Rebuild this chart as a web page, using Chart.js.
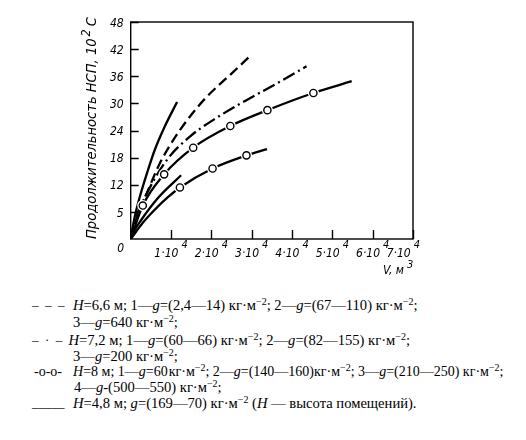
<!DOCTYPE html>
<html>
<head>
<meta charset="utf-8">
<script src="https://cdn.jsdelivr.net/npm/chart.js@4.4.1/dist/chart.umd.min.js"></script>
<style>
  html, body { margin: 0; padding: 0; background: #fff; }
  #wrap { position: relative; width: 526px; height: 440px; overflow: hidden; }
  #chart { position: absolute; left: 0; top: 0; }
  .row {
    position: absolute; white-space: nowrap; color: #000;
    font-family: "Liberation Serif", "DejaVu Serif", serif;
    font-size: 14.6px; line-height: 16px;
  }
  .row sup { font-size: 10px; line-height: 0; vertical-align: 5px; }
  .sym { position: absolute; left: 32px; white-space: nowrap; font-family: "Liberation Serif", serif; font-size: 13px; line-height: 16px; }
</style>
</head>
<body>
<div id="wrap">
  <canvas id="chart" width="526" height="285"></canvas>

  <div class="sym" style="top:297px">–&nbsp;&nbsp;–&nbsp;&nbsp;–</div>
  <div class="row" style="top:297px;left:73px"><i>H</i>=6,6 м; 1—<i>g</i>=(2,4—14) кг·м<sup>−2</sup>; 2—<i>g</i>=(67—110) кг·м<sup>−2</sup>;</div>
  <div class="row" style="top:313.7px;left:73px">3—<i>g</i>=640 кг·м<sup>−2</sup>;</div>

  <div class="sym" style="top:332px">–&nbsp;&nbsp;·&nbsp;&nbsp;–</div>
  <div class="row" style="top:332px;left:68.5px"><i>H</i>=7,2 м; 1—<i>g</i>=(60—66) кг·м<sup>−2</sup>; 2—<i>g</i>=(82—155) кг·м<sup>−2</sup>;</div>
  <div class="row" style="top:347.7px;left:73px">3—<i>g</i>=200 кг·м<sup>−2</sup>;</div>

  <div class="sym" style="top:363.7px;left:34px;font-size:14px">-o-o-</div>
  <div class="row" style="top:363.7px;left:73px;font-size:14px"><i>H</i>=8 м; 1—<i>g</i>=60<span style="margin-left:1px"></span>кг·м<sup>−2</sup>; 2—<i>g</i>=(140—160)кг·м<sup>−2</sup>; 3—<i>g</i>=(210—250) кг·м<sup>−2</sup>;</div>
  <div class="row" style="top:378.7px;left:74px">4—<i>g</i>-(500—550) кг·м<sup>−2</sup>;</div>

  <div class="sym" style="top:395.3px">_____</div>
  <div class="row" style="top:395.3px;left:73px"><i>H</i>=4,8 м; <i>g</i>=(169—70) кг·м<sup>−2</sup> (<i>H</i> — высота помещений).</div>
</div>

<script>
// curves, x in m3, y in 10^2 s
const solidTopX = [0, 920, 2160, 4200, 6000, 8500, 11500];
const solidTopY = [0, 4.6, 9.0, 15.0, 19.8, 25.0, 30.3];

const dashedX = [0, 1700, 4200, 7200, 10500, 14600, 18800, 25000, 30000];
const dashedY = [0, 5.3, 10.6, 16.7, 21.8, 27.0, 31.4, 36.6, 40.8];

const dashDotX = [0, 900, 3400, 8900, 14600, 20400, 28700, 36200, 43600];
const dashDotY = [0, 3.6, 9.0, 17.4, 22.6, 26.3, 30.7, 34.4, 38.2];

const circTopX = [0, 3000, 8300, 15500, 24700, 33900, 45300, 54800];
const circTopY = [0, 7.4, 14.3, 20.2, 25.0, 28.5, 32.3, 34.9];
const circTopMarks = [0, 1, 1, 1, 1, 1, 1, 0];

const solidLowX = [0, 1000, 2600, 6700, 12500];
const solidLowY = [0, 2.0, 4.2, 9.0, 14.1];

const circLowX = [0, 3000, 6200, 9300, 12200, 20300, 28700, 33800];
const circLowY = [0, 3.6, 6.7, 9.3, 11.4, 15.6, 18.5, 19.9];
const circLowMarks = [0, 0, 0, 0, 1, 1, 1, 0];

const xTicks = [10000, 20000, 30000, 40000, 50000, 60000, 70000];
const xTickText = ['1·10', '2·10', '3·10', '4·10', '5·10', '6·10', '7·10'];
const xTickSup = '4';
const yTicks = [6, 12, 18, 24, 30, 36, 42, 48];
const yTickText = ['5', '12', '18', '24', '30', '36', '42', '48'];
const originText = '0';
const yTitle = 'Продолжительность НСП, 10';
const yTitleSup = '2';
const yTitleEnd = 'С';
const xTitle = 'V, м';
const xTitleSup = '3';

const pts = (xs, ys) => xs.map((x, i) => ({ x: x, y: ys[i] }));
const marked = (xs, ys, marks) => pts(xs, ys).filter((p, i) => marks[i]);

const font = (size) => 'italic ' + size + 'px "Liberation Sans Narrow", "DejaVu Sans Condensed", sans-serif';

const lineStyle = (data, dash) => ({
  data: data,
  borderColor: '#000',
  borderWidth: 2.3,
  borderDash: dash,
  pointRadius: 0,
  fill: false,
  cubicInterpolationMode: 'monotone',
  order: 3,
});

const halo = (data) => ({
  data: data, showLine: false, pointRadius: 5.6,
  pointBackgroundColor: '#fff', pointBorderWidth: 0, pointBorderColor: '#fff', order: 2,
});
const ring = (data) => ({
  data: data, showLine: false, pointRadius: 3.6,
  pointBackgroundColor: '#fff', pointBorderColor: '#000', pointBorderWidth: 1.4, order: 1,
});

const axesPlugin = {
  id: 'axesPlugin',
  afterDraw(chart) {
    const ctx = chart.ctx;
    const a = chart.chartArea;
    const xs = chart.scales.x;
    const ys = chart.scales.y;
    ctx.save();
    ctx.strokeStyle = '#000';
    ctx.lineWidth = 1.4;
    ctx.strokeRect(a.left, a.top, a.right - a.left, a.bottom - a.top);

    // inner ticks
    ctx.beginPath();
    xTicks.forEach((v) => {
      const px = Math.round(xs.getPixelForValue(v)) + 0.5;
      ctx.moveTo(px, a.bottom);
      ctx.lineTo(px, a.bottom - 9);
    });
    yTicks.forEach((v) => {
      const py = Math.round(ys.getPixelForValue(v)) + 0.5;
      ctx.moveTo(a.left, py);
      ctx.lineTo(a.left + 8, py);
    });
    ctx.stroke();

    ctx.fillStyle = '#000';
    ctx.textBaseline = 'middle';

    // y labels
    ctx.font = font(12);
    ctx.textAlign = 'right';
    yTicks.forEach((v, i) => {
      ctx.fillText(yTickText[i], a.left - 7, ys.getPixelForValue(v) + 1.5);
    });
    ctx.textAlign = 'center';
    ctx.fillText(originText, a.left - 10, a.bottom + 10);

    // x labels with superscript
    ctx.textAlign = 'left';
    xTicks.forEach((v, i) => {
      ctx.font = font(12);
      const wm = ctx.measureText(xTickText[i]).width;
      ctx.font = font(11);
      const wsup = ctx.measureText(xTickSup).width;
      const total = wm + 3 + wsup;
      let start = xs.getPixelForValue(v) - total / 2;
      if (start + total > a.right + 7) start = a.right + 7 - total;
      ctx.font = font(12);
      ctx.fillText(xTickText[i], start, a.bottom + 15);
      ctx.font = font(11);
      ctx.fillText(xTickSup, start + wm + 3, a.bottom + 6.5);
    });

    // x title
    ctx.font = font(12);
    const wx = ctx.measureText(xTitle).width;
    ctx.fillText(xTitle, a.right - 30, a.bottom + 32);
    ctx.font = font(11);
    ctx.fillText(xTitleSup, a.right - 30 + wx + 3, a.bottom + 26);

    // y title, rotated, stretched to the reference length
    ctx.translate(a.left - 38, a.bottom);
    ctx.rotate(-Math.PI / 2);
    ctx.font = font(14);
    const w1 = ctx.measureText(yTitle).width;
    const w3 = ctx.measureText(yTitleEnd).width;
    ctx.font = font(12);
    const w2 = ctx.measureText(yTitleSup).width;
    const total = w1 + 2 + w2 + 3 + w3;
    ctx.scale(222 / total, 1);
    ctx.font = font(14);
    ctx.fillText(yTitle, 0, 0);
    ctx.fillText(yTitleEnd, w1 + 2 + w2 + 3, 0);
    ctx.font = font(12);
    ctx.fillText(yTitleSup, w1 + 2, -6);
    ctx.restore();
  },
};

new Chart(document.getElementById('chart'), {
  type: 'line',
  data: {
    datasets: [
      lineStyle(pts(solidTopX, solidTopY), []),
      lineStyle(pts(dashedX, dashedY), [10, 5]),
      lineStyle(pts(dashDotX, dashDotY), [13, 4, 2, 4]),
      lineStyle(pts(circTopX, circTopY), []),
      lineStyle(pts(solidLowX, solidLowY), []),
      lineStyle(pts(circLowX, circLowY), []),
      halo(marked(circTopX, circTopY, circTopMarks)),
      halo(marked(circLowX, circLowY, circLowMarks)),
      ring(marked(circTopX, circTopY, circTopMarks)),
      ring(marked(circLowX, circLowY, circLowMarks)),
    ],
  },
  options: {
    responsive: false,
    animation: false,
    layout: { padding: { left: 130.7, top: 22, right: 113, bottom: 46 } },
    plugins: { legend: { display: false }, tooltip: { enabled: false } },
    scales: {
      x: { type: 'linear', min: 0, max: 70000, display: false },
      y: { type: 'linear', min: 0, max: 48, display: false },
    },
  },
  plugins: [axesPlugin],
});
</script>
</body>
</html>
